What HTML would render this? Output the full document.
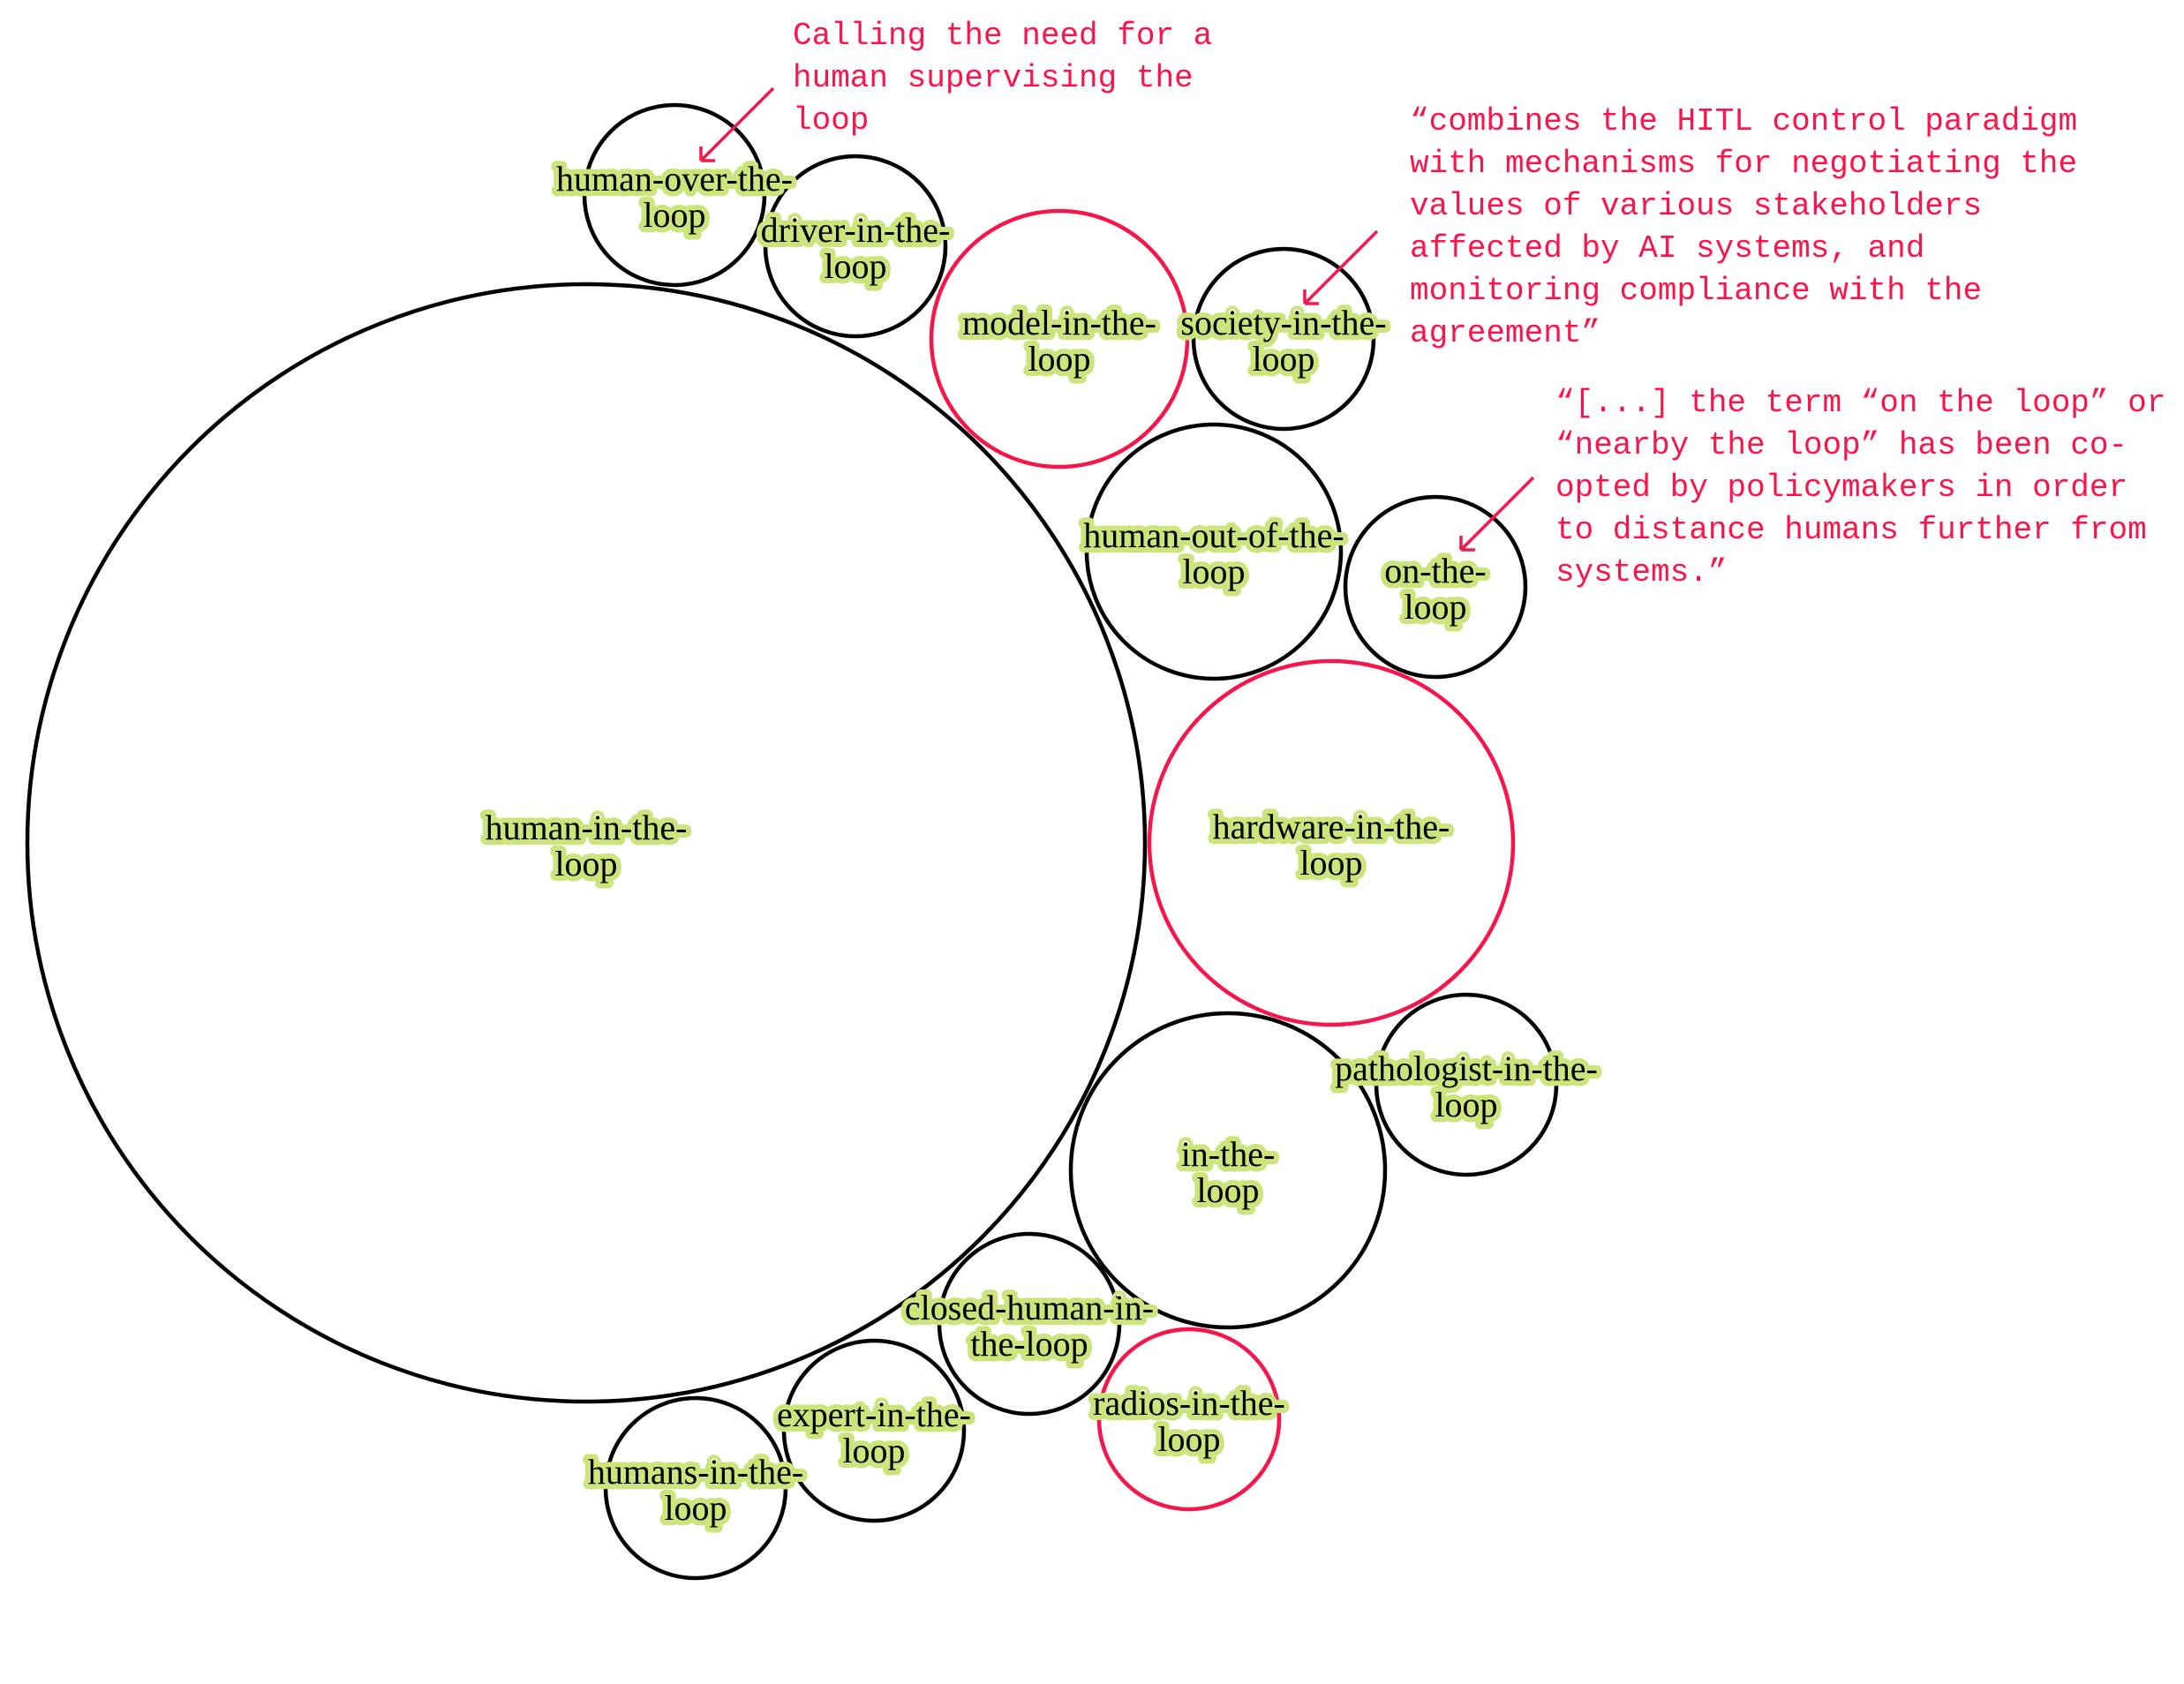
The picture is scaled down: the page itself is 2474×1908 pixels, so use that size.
<!DOCTYPE html>
<html><head><meta charset="utf-8"><style>
html,body{margin:0;padding:0;background:#fff;}
svg{display:block}
.c{fill:none;stroke:#000;stroke-width:4.5}
.r{fill:none;stroke:#f5174b;stroke-width:4.5}
.l{font-family:"Liberation Serif",serif;font-size:40px;fill:#000;stroke:#cde47d;stroke-width:12px;stroke-linejoin:round;paint-order:stroke fill;text-anchor:middle}
.a{font-family:"Liberation Mono",monospace;font-size:36px;fill:#f5174b}
.ar{stroke:#f5174b;stroke-width:3.5;fill:none}
</style></head><body>
<svg width="2474" height="1908" viewBox="0 0 2474 1908" xmlns="http://www.w3.org/2000/svg">
<circle class="c" cx="664" cy="955" r="633"/>
<circle class="c" cx="764" cy="221" r="102"/>
<circle class="c" cx="969" cy="279" r="102"/>
<circle class="r" cx="1200" cy="384" r="145"/>
<circle class="c" cx="1454" cy="384" r="102"/>
<circle class="c" cx="1375" cy="625" r="144"/>
<circle class="c" cx="1626" cy="665" r="102"/>
<circle class="r" cx="1508" cy="955" r="206"/>
<circle class="c" cx="1391" cy="1326" r="178"/>
<circle class="c" cx="1661" cy="1229" r="102"/>
<circle class="c" cx="1166" cy="1500" r="102"/>
<circle class="r" cx="1347" cy="1608" r="102"/>
<circle class="c" cx="990" cy="1621" r="102"/>
<circle class="c" cx="788" cy="1686" r="102"/>

<text class="l" x="664" y="951">human-in-the-</text><text class="l" x="664" y="992">loop</text>
<text class="l" x="764" y="216">human-over-the-</text><text class="l" x="764" y="257">loop</text>
<text class="l" x="969" y="274">driver-in-the-</text><text class="l" x="969" y="315">loop</text>
<text class="l" x="1200" y="379">model-in-the-</text><text class="l" x="1200" y="420">loop</text>
<text class="l" x="1454" y="379">society-in-the-</text><text class="l" x="1454" y="420">loop</text>
<text class="l" x="1375" y="620">human-out-of-the-</text><text class="l" x="1375" y="661">loop</text>
<text class="l" x="1626" y="660">on-the-</text><text class="l" x="1626" y="701">loop</text>
<text class="l" x="1508" y="950">hardware-in-the-</text><text class="l" x="1508" y="991">loop</text>
<text class="l" x="1391" y="1321">in-the-</text><text class="l" x="1391" y="1362">loop</text>
<text class="l" x="1661" y="1224">pathologist-in-the-</text><text class="l" x="1661" y="1265">loop</text>
<text class="l" x="1166" y="1495">closed-human-in-</text><text class="l" x="1166" y="1536">the-loop</text>
<text class="l" x="1347" y="1603">radios-in-the-</text><text class="l" x="1347" y="1644">loop</text>
<text class="l" x="990" y="1616">expert-in-the-</text><text class="l" x="990" y="1657">loop</text>
<text class="l" x="788" y="1681">humans-in-the-</text><text class="l" x="788" y="1722">loop</text>

<text class="a" x="898" y="50">Calling the need for a</text>
<text class="a" x="898" y="98">human supervising the</text>
<text class="a" x="898" y="146">loop</text>

<text class="a" x="1597" y="147">“combines the HITL control paradigm</text>
<text class="a" x="1597" y="195">with mechanisms for negotiating the</text>
<text class="a" x="1597" y="243">values of various stakeholders</text>
<text class="a" x="1597" y="291">affected by AI systems, and</text>
<text class="a" x="1597" y="339">monitoring compliance with the</text>
<text class="a" x="1597" y="387">agreement”</text>

<text class="a" x="1762" y="466">“[...] the term “on the loop” or</text>
<text class="a" x="1762" y="514">“nearby the loop” has been co-</text>
<text class="a" x="1762" y="562">opted by policymakers in order</text>
<text class="a" x="1762" y="610">to distance humans further from</text>
<text class="a" x="1762" y="658">systems.”</text>

<path class="ar" d="M876 100 L794 182 M794 182 L794 166 M794 182 L810 182"/>
<path class="ar" d="M1560 262 L1478 344 M1478 344 L1478 328 M1478 344 L1494 344"/>
<path class="ar" d="M1737 541 L1655 623 M1655 623 L1655 607 M1655 623 L1671 623"/>
</svg>
</body></html>
